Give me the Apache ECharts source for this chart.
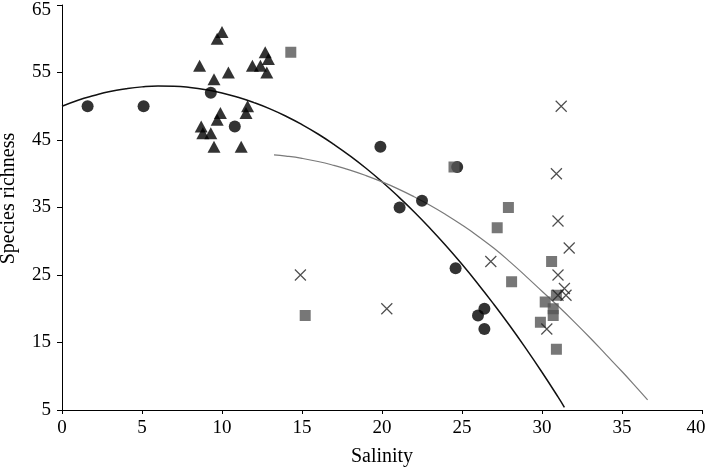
<!DOCTYPE html>
<html><head><meta charset="utf-8">
<script src="https://cdn.jsdelivr.net/npm/echarts@6/dist/echarts.min.js"></script>
<style>html,body{margin:0;padding:0;background:#fff}#c{width:709px;height:469px}</style>
</head><body><div id="c"></div>
<script>
const xTicks = [0,5,10,15,20,25,30,35,40];
const yTicks = [5,15,25,35,45,55,65];
const circles = [[1.6,50],[5.1,50],[9.3,52],[10.8,47],[19.9,44],[21.1,35],[22.5,36],[24.6,26],[24.7,41],[26.4,20],[26.0,19],[26.4,17]];
const triangles = [[10.0,61],[9.7,60],[8.6,56],[10.4,55],[9.5,54],[12.7,58],[12.9,57],[11.9,56],[12.4,56],[12.8,55],[11.6,50],[11.5,49],[9.9,49],[9.7,48],[8.7,47],[8.8,46],[9.3,46],[9.5,44],[11.2,44]];
const squares = [[14.3,58],[15.2,19],[24.5,41],[27.9,35],[27.2,32],[30.6,27],[28.1,24],[30.9,22],[30.2,21],[30.7,20],[30.7,19],[29.9,18],[30.9,14]];
const crosses = [[14.9,25],[20.3,20],[31.2,50],[30.9,40],[31.0,33],[31.7,29],[26.8,27],[31.0,25],[31.4,23],[31.5,22],[31.0,22],[30.3,17]];
const blackCurve = [[0,50.0],[1,50.9],[2,51.6],[3,52.2],[4,52.6],[5,52.87],[6,52.99],[7,52.96],[8,52.78],[9,52.45],[10,51.97],[11,51.33],[12,50.54],[13,49.61],[14,48.52],[15,47.28],[16,45.89],[17,44.34],[18,42.65],[19,40.81],[20,38.81],[21,36.66],[22,34.37],[23,31.92],[24,29.33],[25,26.58],[26,23.68],[27,20.63],[28,17.44],[29,14.09],[30,10.59],[31,6.94],[31.4,5.4]];
const grayCurve = [[13.25,42.8],[14,42.62],[15,42.28],[16,41.82],[17,41.23],[18,40.54],[19,39.73],[20,38.8],[21,37.76],[22,36.6],[23,35.33],[24,33.93],[25,32.4],[26,30.75],[27,28.95],[28,26.95],[29,24.8],[30,22.6],[31,20.4],[32,18.1],[33,15.7],[34,13.2],[35,10.7],[36,8.1],[36.6,6.5]];

const font = '"Liberation Serif", "DejaVu Serif", serif';
const chart = echarts.init(document.getElementById('c'));
chart.setOption({
  animation: false,
  backgroundColor: '#fff',
  grid: {left: 62, right: 7, top: 5, bottom: 59, outerBoundsMode: 'none', containLabel: false},
  xAxis: {
    type: 'value', min: 0, max: 40, interval: 5,
    name: 'Salinity', nameLocation: 'middle', nameGap: 37,
    nameTextStyle: {fontFamily: font, fontSize: 20, color: '#000'},
    axisLine: {show: true, onZero: false, lineStyle: {color: '#000', width: 1}},
    axisTick: {show: true, length: 4, lineStyle: {color: '#000'}},
    axisLabel: {fontFamily: font, fontSize: 19, color: '#000', margin: 9,
      customValues: xTicks,
      formatter: function (v) { return v === xTicks[xTicks.length - 1] ? '{last|' + v + '}' : String(v); },
      rich: {last: {fontFamily: font, fontSize: 19, color: '#000', padding: [0, 12, 0, 0]}}},
    splitLine: {show: false}
  },
  yAxis: {
    type: 'value', min: 5, max: 65,
    name: 'Species richness', nameLocation: 'middle', nameGap: 43,
    nameTextStyle: {fontFamily: font, fontSize: 20, color: '#000', padding: [0, 0, 0, 18]},
    axisLine: {show: true, onZero: false, lineStyle: {color: '#000', width: 1}},
    axisTick: {show: true, length: 5, lineStyle: {color: '#000'}, customValues: yTicks},
    axisLabel: {fontFamily: font, fontSize: 19, color: '#000', margin: 11, customValues: yTicks,
      formatter: function (v) { return v === yTicks[yTicks.length - 1] ? '{top|' + v + '}' : String(v); },
      rich: {top: {fontFamily: font, fontSize: 19, color: '#000', padding: [10, 0, 0, 0]}}},
    splitLine: {show: false}
  },
  series: [
    {type: 'line', data: blackCurve, smooth: true, symbol: 'none', z: 1,
     lineStyle: {color: '#111', width: 1.5}},
    {type: 'line', data: grayCurve, smooth: true, symbol: 'none', z: 1,
     lineStyle: {color: '#7a7a7a', width: 1.2}},
    {type: 'scatter', data: triangles, symbol: 'triangle', symbolSize: [13, 12], z: 3,
     itemStyle: {color: '#000'}},
    {type: 'scatter', data: circles, symbol: 'circle', symbolSize: 12, z: 3,
     itemStyle: {color: '#000'}},
    {type: 'scatter', data: squares, symbol: 'rect', symbolSize: 11, z: 4,
     itemStyle: {color: '#555'}},
    {type: 'scatter', data: crosses, symbol: 'path://M0,0L10,10M10,0L0,10', symbolSize: 11, z: 5,
     itemStyle: {color: 'transparent', borderColor: '#222', borderWidth: 1.2}}
  ]
});
</script></body></html>
